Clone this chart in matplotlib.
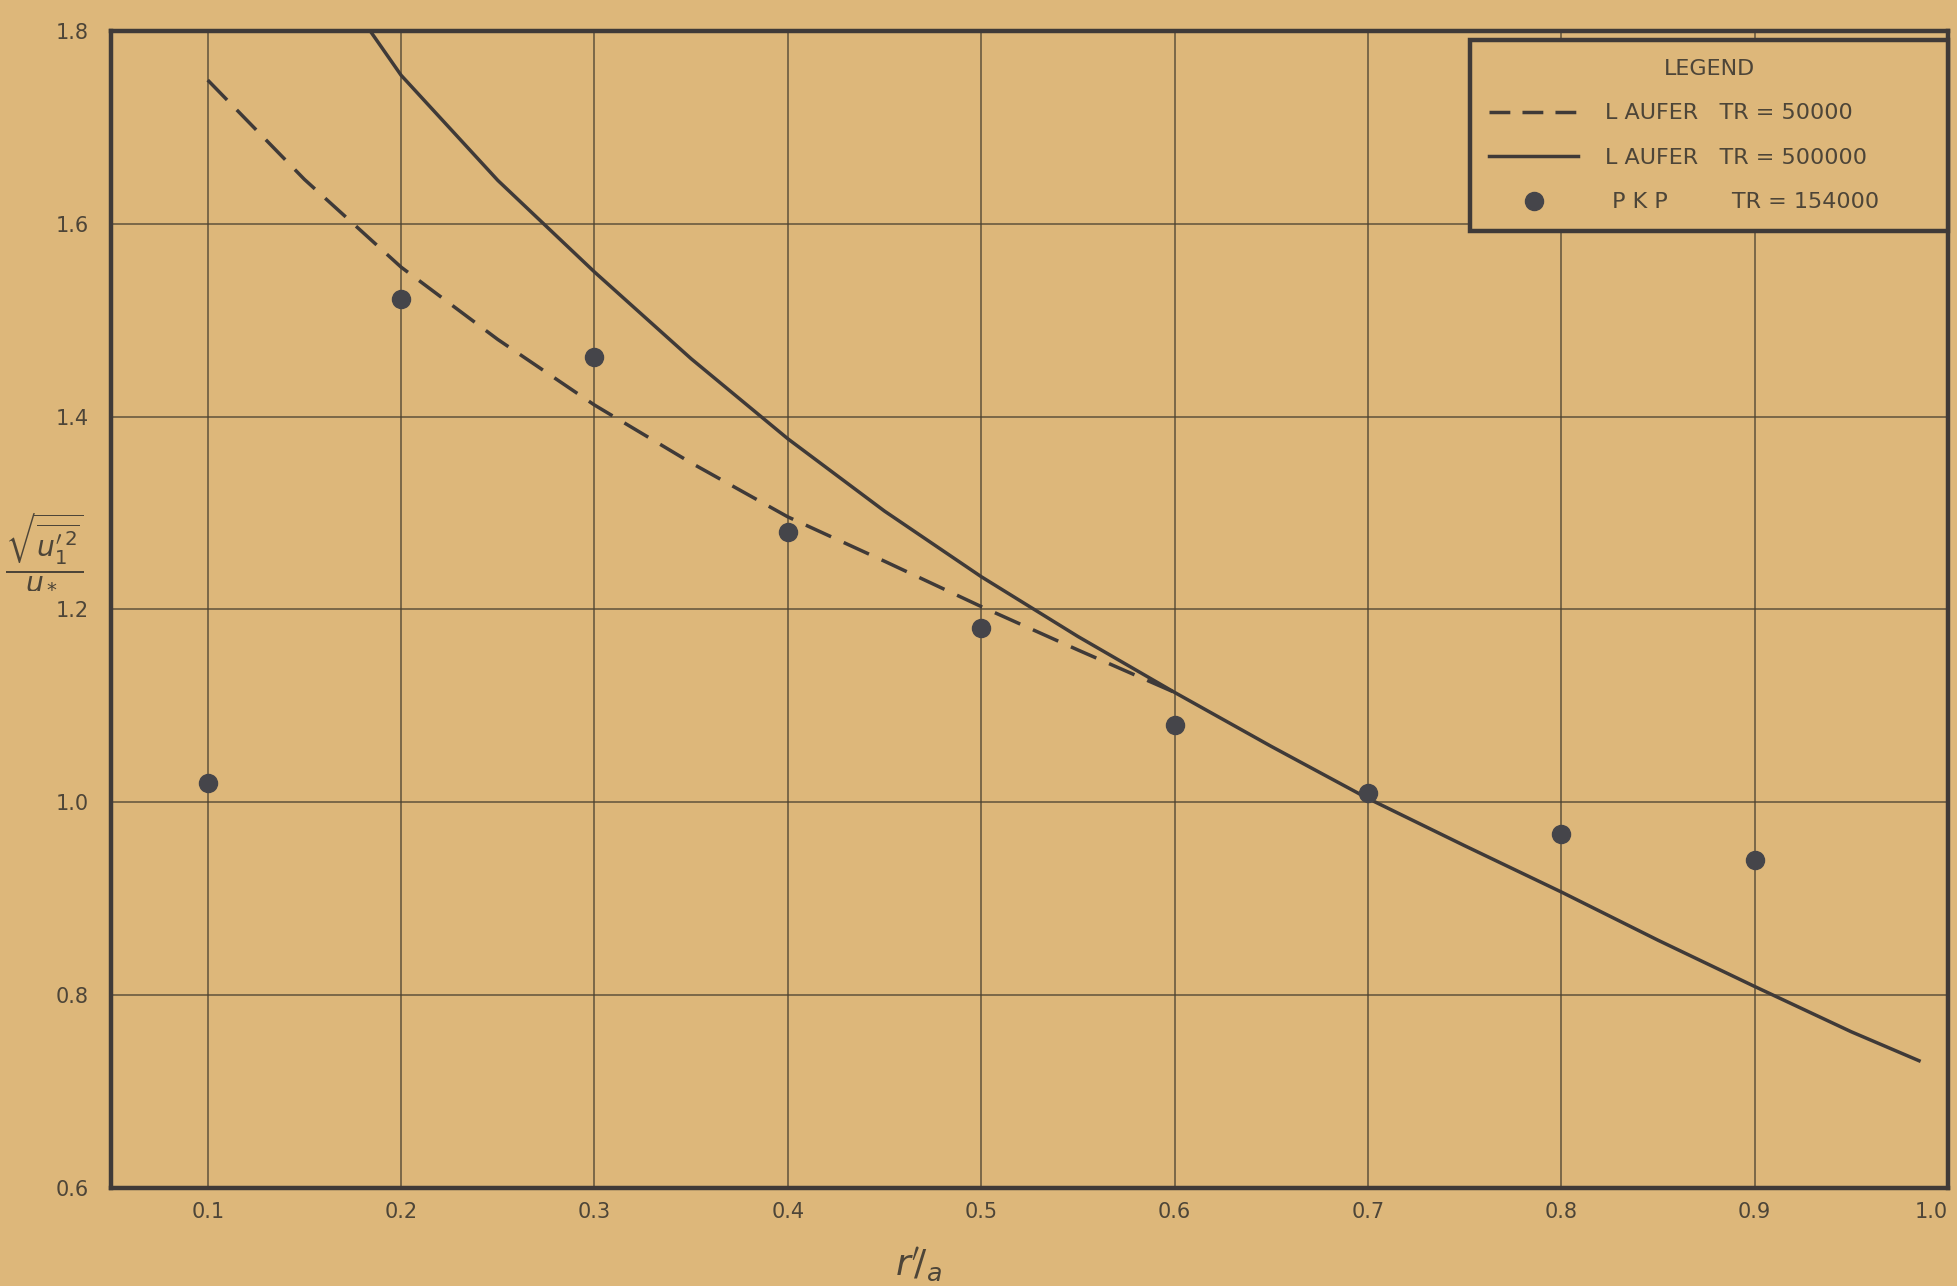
import matplotlib
matplotlib.use('Agg')
import matplotlib.pyplot as plt
from matplotlib.lines import Line2D

# Laufer, Re = 500000 (solid)
laufer_hi_x = [0.184, 0.2, 0.25, 0.3, 0.35, 0.4, 0.45, 0.5, 0.55, 0.6, 0.65,
               0.7, 0.75, 0.8, 0.85, 0.9, 0.95, 0.985]
laufer_hi_y = [1.80, 1.754, 1.645, 1.550, 1.460, 1.377, 1.302, 1.234, 1.172,
               1.114, 1.058, 1.004, 0.955, 0.907, 0.857, 0.809, 0.762, 0.732]

# Laufer, Re = 50000 (dashed)
laufer_lo_x = [0.1, 0.15, 0.2, 0.25, 0.3, 0.35, 0.4, 0.45, 0.5, 0.55, 0.6]
laufer_lo_y = [1.749, 1.646, 1.555, 1.480, 1.412, 1.352, 1.296, 1.250, 1.203,
               1.158, 1.114]

# PKP, Re = 154000 (dots)
pkp_x = [0.1, 0.2, 0.3, 0.4, 0.5, 0.6, 0.7, 0.8, 0.9]
pkp_y = [1.02, 1.522, 1.462, 1.280, 1.181, 1.080, 1.010, 0.967, 0.940]

xticks = [0.1, 0.2, 0.3, 0.4, 0.5, 0.6, 0.7, 0.8, 0.9, 1.0]
yticks = [0.6, 0.8, 1.0, 1.2, 1.4, 1.6, 1.8]

paper = '#DDB77A'
ink = '#3f3a38'
grid_ink = '#4a4030'
text_ink = '#4d4538'

fig = plt.figure(figsize=(19.58, 12.86), dpi=100, facecolor=paper)
ax = fig.add_axes([0.0567, 0.0762, 0.9382, 0.8998])
ax.set_facecolor(paper)

ax.plot(laufer_lo_x, laufer_lo_y, color=ink, lw=2.5, dashes=(8, 4),
        solid_joinstyle='round')
ax.plot(laufer_hi_x, laufer_hi_y, color=ink, lw=2.5, solid_joinstyle='round')
ax.plot(pkp_x, pkp_y, 'o', color='#45454a', ms=13, mec='#45454a')

ax.set_xlim(0.05, 1.0)
ax.set_ylim(0.6, 1.8)
ax.set_xticks(xticks)
ax.set_yticks(yticks)
ax.set_xticklabels(['%.1f' % v for v in xticks])
ax.set_yticklabels(['%.1f' % v for v in yticks])
ax.tick_params(length=0, labelsize=15, labelcolor=text_ink)
ax.tick_params(axis='x', pad=10)
ax.tick_params(axis='y', pad=16)
ax.get_xticklabels()[-1].set_ha('right')
ax.grid(True, color=grid_ink, lw=1.1, alpha=0.85)
ax.set_axisbelow(True)
for s in ax.spines.values():
    s.set_linewidth(3.2)
    s.set_color(ink)

# legend
handles = [
    Line2D([], [], color=ink, lw=2.5, dashes=(6, 3.5)),
    Line2D([], [], color=ink, lw=2.5),
    Line2D([], [], marker='o', ls='none', color='#45454a', ms=13),
]
labels = ['L AUFER   TR = 50000', 'L AUFER   TR = 500000', ' P K P         TR = 154000']
leg = ax.legend(handles, labels, title='LEGEND', loc='upper left',
                bbox_to_anchor=(0.740, 0.82, 0.26, 0.172), mode='expand',
                fontsize=16, title_fontsize=16, frameon=True, fancybox=False,
                handlelength=4.0, handletextpad=1.2, labelspacing=1.1,
                borderpad=0.85, borderaxespad=0)
leg.get_frame().set_edgecolor(ink)
leg.get_frame().set_linewidth(3.2)
leg.get_frame().set_facecolor(paper)
leg.get_frame().set_alpha(1)
leg.get_title().set_color(text_ink)
for t in leg.get_texts():
    t.set_color(text_ink)

# axis labels
fig.text(0.0225, 0.572, r'$\frac{\sqrt{\overline{u_1^{\prime\,2}}}}{u_*}$',
         fontsize=29, color=text_ink, ha='center', va='center')
fig.text(0.469, 0.016, r'$r^{\prime}\!/_{a}$', fontsize=26, color=text_ink,
         ha='center', va='center')

fig.savefig('out.png', dpi=100, facecolor=paper)
